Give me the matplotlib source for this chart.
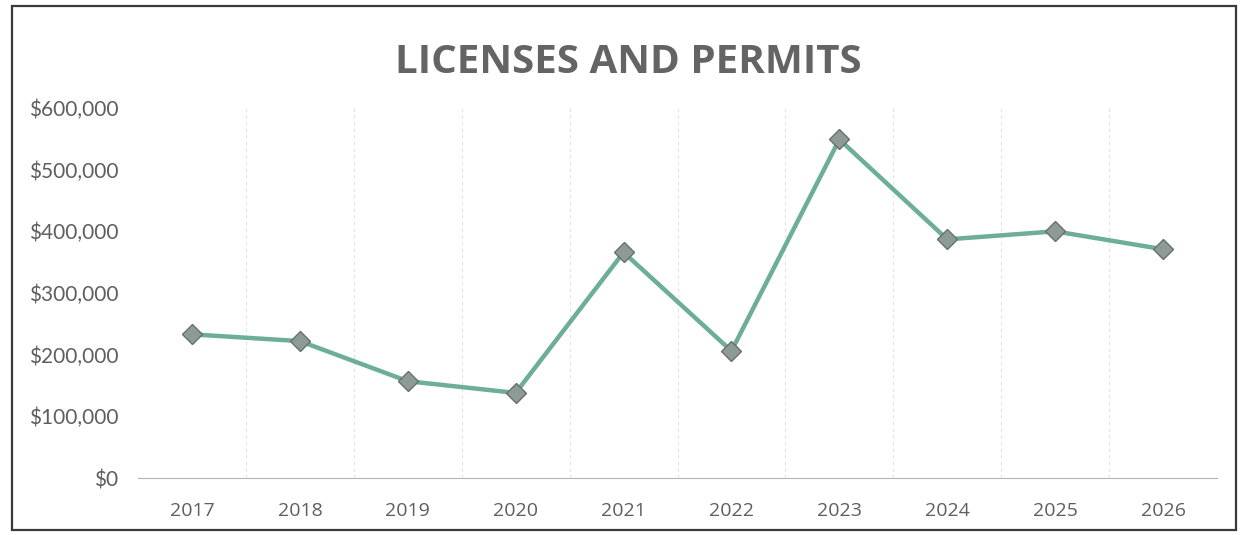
import matplotlib.pyplot as plt
from matplotlib.patches import Rectangle
from matplotlib.ticker import FuncFormatter, MultipleLocator

# Licenses and permits revenue by year
years = ["2017", "2018", "2019", "2020", "2021", "2022", "2023", "2024", "2025", "2026"]
revenue = [233000, 222000, 157000, 138000, 366000, 206000, 549000, 387000, 400000, 371000]

plt.rcParams["font.family"] = ["Lato", "DejaVu Sans"]

fig = plt.figure(figsize=(12.46, 5.35), dpi=100)
fig.patch.set_facecolor("white")

# outer chart frame
fig.patches.append(Rectangle((0.010, 0.010), 0.982, 0.978, transform=fig.transFigure,
                             fill=False, edgecolor="#3a3a3a", linewidth=1.6))

ax = fig.add_axes([0.1108, 0.1065, 0.8659, 0.6916])
x = list(range(len(years)))
ax.plot(x, revenue, color="#6cae98", linewidth=3.2, zorder=3,
        marker="D", markersize=10, markerfacecolor="#8e9a95",
        markeredgecolor="#66716c", markeredgewidth=1.0)

ax.set_xlim(-0.5, len(years) - 0.5)
ax.set_ylim(0, 600000)
ax.yaxis.set_major_locator(MultipleLocator(100000))
ax.yaxis.set_major_formatter(FuncFormatter(lambda v, _: f"${v:,.0f}"))
ax.set_xticks(x)
ax.set_xticklabels(years, family=["Open Sans", "DejaVu Sans"])

# faint category separators
for b in range(1, len(years)):
    ax.axvline(b - 0.5, color="#e2e2e2", linewidth=0.8, linestyle=(0, (3, 3)), zorder=1)

for s in ["top", "right", "left"]:
    ax.spines[s].set_visible(False)
ax.spines["bottom"].set_color("#b5b5b5")
ax.spines["bottom"].set_linestyle((0, (4, 1)))
ax.tick_params(axis="both", length=0, colors="#5e5e5e")
ax.tick_params(axis="x", pad=17, labelsize=14)
ax.tick_params(axis="y", pad=14, labelsize=15)

fig.text(0.504, 0.883, "LICENSES AND PERMITS", ha="center", va="center",
         fontsize=29, fontweight="bold", color="#646464", family=["Open Sans", "DejaVu Sans"])

fig.savefig("out.png", dpi=100)
